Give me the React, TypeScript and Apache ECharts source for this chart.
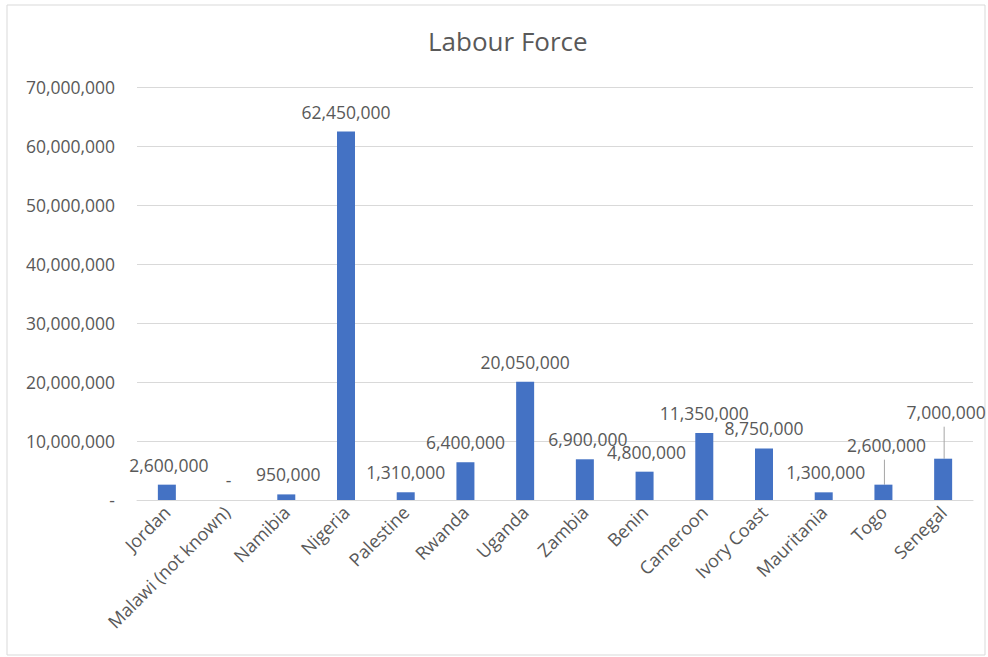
import React, { useEffect, useRef } from "react";
import * as echarts from "echarts";

const categories = [
  "Jordan",
  "Malawi (not known)",
  "Namibia",
  "Nigeria",
  "Palestine",
  "Rwanda",
  "Uganda",
  "Zambia",
  "Benin",
  "Cameroon",
  "Ivory Coast",
  "Mauritania",
  "Togo",
  "Senegal",
];

const labourForce = [
  2600000, 0, 950000, 62450000, 1310000, 6400000, 20050000, 6900000, 4800000,
  11350000, 8750000, 1300000, 2600000, 7000000,
];

const yTicks = [0, 10000000, 20000000, 30000000, 40000000, 50000000, 60000000, 70000000];

// label displacement (style only), [dx, dy] in px, by category index
const labelShift: Record<number, [number, number]> = {
  0: [2, 0],
  1: [2, 0],
  2: [2, 0],
  7: [3, 0],
  8: [2, 0],
  11: [2, 0],
  12: [3, -20],
  13: [3, -27],
};
const leaderIdx = [12, 13];

const FONT = "'Open Sans', 'Noto Sans', sans-serif";
const GREY = "#595959";
const FS = 17.5;

const fmt = (v: number) => (v === 0 ? "-" : v.toLocaleString("en-US"));

export default function App() {
  const ref = useRef<HTMLDivElement>(null);
  useEffect(() => {
    document.body.style.margin = "0";
    const chart = echarts.init(ref.current!, null, { renderer: "svg" });
    const LABEL_DIST = 11;
    chart.setOption({
      animation: false,
      backgroundColor: "#ffffff",
      textStyle: { fontFamily: FONT },
      title: {
        text: "Labour Force",
        left: 423,
        top: 23,
        textStyle: { fontFamily: FONT, fontSize: 26, fontWeight: "normal", color: GREY },
      },
      graphic: [
        {
          type: "rect",
          shape: { x: 7, y: 5, width: 978, height: 650 },
          style: { fill: "none", stroke: "#d9d9d9", lineWidth: 1 },
          silent: true,
          z: -1,
        },
      ],
      grid: { left: 137, right: 15, top: 87, bottom: 157, containLabel: false },
      xAxis: {
        type: "category",
        data: categories,
        axisTick: { show: false },
        axisLine: { lineStyle: { color: "#d9d9d9" } },
        axisLabel: {
          rotate: 45,
          interval: 0,
          color: GREY,
          fontSize: 18,
          fontFamily: FONT,
          margin: 9,
        },
      },
      yAxis: {
        type: "value",
        min: 0,
        max: yTicks[yTicks.length - 1],
        interval: yTicks[1] - yTicks[0],
        axisLine: { show: false },
        axisTick: { show: false },
        splitLine: { lineStyle: { color: "#d9d9d9" } },
        axisLabel: {
          color: GREY,
          fontSize: FS,
          fontFamily: FONT,
          margin: 22,
          formatter: (v: number) => fmt(v),
        },
      },
      series: [
        {
          type: "bar",
          data: labourForce.map((v, i) => ({
            value: v,
            label: {
              offset: labelShift[i] || [0, 0],
            },
          })),
          barWidth: 18,
          itemStyle: { color: "#4472c4" },
          label: {
            show: true,
            position: "top",
            distance: LABEL_DIST,
            color: GREY,
            fontSize: FS,
            fontFamily: FONT,
            formatter: (p: any) => fmt(p.value),
          },
        },
        {
          type: "custom",
          silent: true,
          data: leaderIdx.map((i) => [i, labourForce[i]]),
          renderItem: (params: any, api: any) => {
            const idx = api.value(0);
            const top = api.coord([idx, api.value(1)]);
            const dy = (labelShift[idx] || [0, 0])[1];
            const y2 = top[1] - LABEL_DIST - 9 + dy + 15;
            return {
              type: "line",
              shape: { x1: top[0] + 1, y1: top[1], x2: top[0] + 1, y2 },
              style: { stroke: "#a6a6a6", lineWidth: 1 },
            };
          },
        },
      ],
    });
    return () => chart.dispose();
  }, []);
  return <div ref={ref} style={{ width: 988, height: 657 }} />;
}
